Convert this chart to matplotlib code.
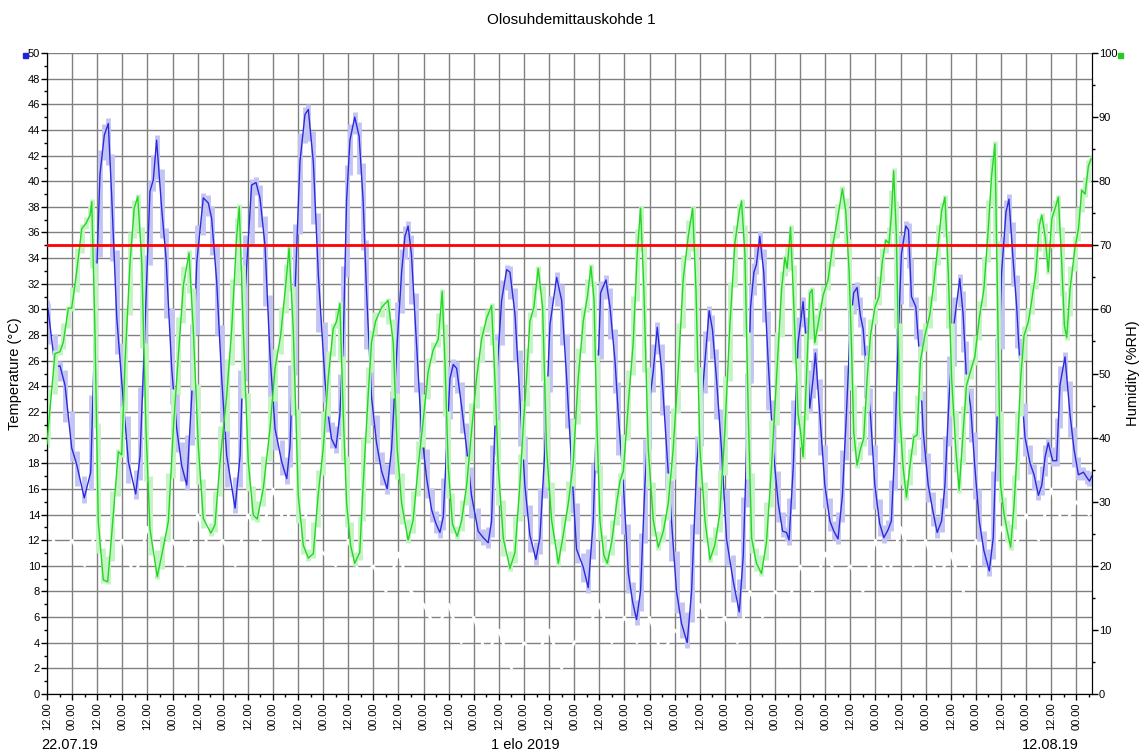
import numpy as np
import matplotlib
matplotlib.use("Agg")
import matplotlib.pyplot as plt
from matplotlib.ticker import MultipleLocator
from matplotlib.patches import Rectangle

plt.rcParams['font.family'] = ['Liberation Sans', 'DejaVu Sans']

# hours counted from 22.07.2019 12:00
temp_hours = [0, 0.6, 3.8, 6.2, 8.6, 11.8, 14.2, 17.8, 20.9, 22.9, 25.3, 27.4, 29.3, 30.9, 33.3, 35.7,
              38.9, 42.4, 44.5, 46.8, 49.2, 50.8, 52.4, 54.8, 56.9, 59.6, 62.0, 64.4, 66.8, 69.2, 71.6,
              74.7, 77.1, 78.7, 81.1, 83.5, 85.9, 89.9, 92.3, 94.6, 97.8, 99.9, 101.8, 104.2, 106.6,
              109.0, 112.2, 114.6, 116.2, 118.5, 120.9, 123.3, 124.9, 127.3, 129.7, 132.8, 134.4,
              136.0, 138.1, 140.0, 141.6, 143.2, 144.8, 147.1, 149.2, 151.1, 152.7, 155.1, 157.5,
              159.9, 162.6, 164.7, 167.4, 169.5, 171.1, 172.6, 174.2, 176.6, 179.0, 181.4, 183.8,
              185.9, 187.8, 189.4, 191.0, 192.6, 194.2, 195.8, 198.2, 200.6, 202.9, 206.1, 208.5,
              210.9, 212.5, 214.9, 217.3, 219.7, 221.3, 223.7, 226.0, 228.4, 230.8, 233.7, 235.6,
              238.0, 240.4, 243.6, 246.0, 248.4, 250.8, 253.1, 256.3, 258.7, 261.1, 262.7, 264.6,
              267.2, 269.1, 271.5, 273.1, 275.5, 277.9, 279.9, 281.8, 283.7, 285.8, 287.9, 289.8,
              291.7, 293.8, 296.2, 298.5, 300.9, 303.3, 306.0, 308.1, 310.5, 312.4, 314.5, 316.5,
              318.1, 320.0, 322.4, 324.8, 328.0, 330.9, 332.8, 334.4, 336.3, 337.9, 339.1, 340.7,
              342.6, 344.7, 347.1, 349.5, 351.6, 353.5, 354.7, 356.7, 359.0, 361.4, 363.0, 364.6,
              366.2, 367.3, 369.4, 371.8, 374.2, 376.1, 378.1, 380.2, 382.1, 384.0, 385.6, 387.2,
              388.8, 390.1, 391.7, 393.6, 395.7, 398.0, 400.0, 402.0, 403.6, 405.2, 406.8, 408.4,
              410.5, 411.8, 413.2, 415.3, 417.2, 418.8, 421.2, 423.3, 425.5, 427.6, 429.2, 431.2,
              433.5, 436.3, 437.9, 439.5, 441.5, 443.5, 445.6, 447.8, 450.4, 452.3, 454.2, 456.3,
              458.4, 459.8, 461.6, 463.5, 465.4, 467.5, 469.9, 471.8, 473.9, 475.5, 477.1, 478.6,
              480.7, 482.6, 484.2, 486.6, 489.0, 490.9, 493.0, 495.4, 497.0, 498.3, 499.4]
temp_vals = [30.3, 29.9, 25.5, 25.6, 24.1, 19.2, 17.9, 15.3, 17.3, 28.5, 40.5, 43.6, 44.5, 38.9, 29.5, 24.4,
             18.1, 15.6, 18.6, 28.5, 39.2, 40.1, 43.2, 37.9, 34.0, 25.4, 20.7, 17.8, 16.3, 23.3, 33.7,
             38.7, 38.3, 37.1, 32.2, 24.6, 18.6, 14.5, 18.6, 31.1, 39.7, 39.9, 38.7, 35.0, 26.4,
             20.7, 18.1, 16.8, 19.4, 31.1, 41.5, 45.2, 45.6, 41.5, 32.7, 24.6, 21.8,
             19.9, 19.2, 21.8, 27.4, 38.5, 43.2, 45.0, 43.5, 38.5, 31.5, 23.2, 19.6,
             17.4, 16.0, 19.1, 27.4, 32.9, 35.7, 36.5, 34.3, 27.4, 20.5, 16.9, 14.4,
             13.3, 12.6, 13.8, 19.1, 24.6, 25.7, 25.4, 22.4, 19.1, 15.5, 12.7, 12.2,
             11.8, 13.5, 24.6, 30.7, 33.1, 32.9, 29.6, 23.2, 16.3, 12.4, 10.5, 12.2,
             19.1, 28.8, 32.5, 30.7, 24.6, 17.7, 11.3, 9.9, 8.3, 13.5, 21.8, 31.3,
             32.3, 30.2, 26.0, 21.8, 16.3, 9.4, 7.2, 5.8, 8.0, 16.3, 22.7, 25.2,
             28.6, 25.2, 19.1, 13.5, 8.0, 5.5, 4.0, 8.0, 17.7, 21.8, 26.0, 29.9,
             28.4, 24.6, 19.1, 12.1, 8.8, 6.4, 10.8, 19.1, 30.2, 32.9, 33.5, 35.7,
             32.9, 26.0, 19.1, 14.9, 12.7, 12.6, 12.0, 17.7, 27.4, 30.6, 27.4, 22.3,
             24.6, 26.6, 21.8, 16.3, 13.5, 12.7, 12.1, 15.5, 21.8, 28.8, 31.3, 31.7,
             29.5, 28.5, 25.2, 21.8, 16.3, 13.3, 12.2, 12.8, 13.5, 19.1, 27.4, 34.3,
             36.5, 36.2, 31.0, 30.2, 26.0, 20.5, 16.3, 14.4, 12.6, 13.5, 16.3, 23.2,
             28.8, 32.4, 29.6, 24.6, 22.4, 17.7, 13.5, 11.2, 9.6, 12.2, 21.8, 32.9,
             37.6, 38.6, 34.3, 30.2, 24.6, 20.0, 18.0, 17.1, 15.5, 16.3, 18.5, 19.6,
             18.2, 18.2, 24.1, 26.3, 21.8, 19.1, 17.1, 17.3, 16.9, 16.6, 17.0]

hum_hours = [0, 0.6, 3.8, 6.2, 7.8, 10.2, 11.8, 14.2, 16.6, 18.6, 20.6, 21.4, 22.9, 24.5, 26.9, 29.0,
             30.9, 34.1, 35.7, 37.3, 39.7, 41.7, 43.4, 45.3, 47.3, 49.2, 52.7, 54.8, 58.0, 60.4,
             62.8, 65.2, 67.9, 69.9, 72.3, 74.7, 78.3, 80.3, 82.7, 85.9, 88.3, 90.7, 91.9, 93.8,
             96.2, 98.6, 100.5, 103.4, 106.6, 109.0, 111.7, 114.1, 115.7, 117.7, 120.1, 122.5,
             124.9, 127.3, 129.6, 132.0, 134.4, 136.8, 138.4, 140.0, 141.6, 143.2, 145.1, 147.1,
             149.5, 151.1, 153.5, 155.1, 157.0, 159.9, 163.0, 165.5, 167.4, 169.5, 172.6, 175.0,
             177.4, 179.8, 182.2, 184.6, 187.0, 188.9, 190.2, 191.8, 193.8, 196.1, 198.2, 200.6,
             202.9, 205.3, 207.7, 210.1, 212.5, 214.1, 215.7, 218.1, 221.3, 223.7, 226.0, 227.6,
             229.2, 230.8, 232.7, 234.8, 236.9, 238.8, 241.2, 244.4, 246.8, 249.2, 251.5, 253.9,
             256.3, 258.3, 260.0, 261.5, 262.7, 264.3, 266.2, 267.8, 269.9, 272.3, 273.9, 275.5,
             277.9, 280.2, 282.1, 283.7, 285.3, 287.4, 289.8, 292.2, 294.6, 297.0, 299.3, 301.7,
             304.1, 306.5, 308.6, 310.2, 312.1, 314.5, 316.9, 319.2, 321.6, 324.0, 326.4, 328.8,
             330.9, 332.0, 333.6, 335.2, 336.8, 339.1, 341.5, 343.9, 346.3, 348.7, 351.1, 352.7,
             353.8, 355.4, 357.0, 359.0, 360.2, 361.4, 363.0, 364.6, 365.7, 367.0, 369.4, 371.0,
             373.4, 375.4, 377.4, 380.2, 381.8, 383.4, 384.5, 385.6, 387.2, 388.8, 390.4, 392.0,
             393.6, 395.7, 397.7, 399.3, 400.9, 402.5, 403.6, 404.7, 406.0, 407.6, 409.2, 410.8,
             412.4, 414.3, 415.9, 417.5, 419.6, 422.0, 423.9, 426.0, 427.6, 429.2, 430.8, 432.4,
             434.4, 436.0, 437.9, 439.5, 441.9, 443.5, 445.6, 447.8, 449.9, 451.5, 453.1, 454.7,
             455.8, 457.4, 459.0, 460.6, 462.2, 463.8, 465.4, 467.0, 469.1, 470.7, 472.7, 474.3,
             475.5, 477.1, 478.6, 480.3, 481.9, 483.4, 485.0, 486.3, 487.4, 489.0, 491.4, 493.0,
             494.6, 496.2, 497.8, 499.1]
hum_vals = [39.0, 41.4, 53.1, 53.4, 54.9, 60.2, 60.2, 65.9, 72.6, 73.4, 74.7, 76.8, 57.0, 26.9, 17.8, 17.5,
            24.8, 37.8, 37.3, 51.8, 67.4, 75.8, 77.6, 67.4, 41.4, 25.8, 18.3, 21.6, 26.9, 41.4,
            52.9, 63.8, 68.8, 57.0, 38.8, 27.4, 25.1, 26.4, 36.2, 46.6, 57.0, 71.6, 76.0, 57.0,
            36.2, 27.9, 27.3, 32.1, 41.4, 50.8, 56.0, 63.8, 69.6, 57.0, 31.0, 23.2,
            21.2, 21.9, 31.0, 38.2, 49.2, 57.0, 58.1, 60.9, 43.7, 29.8, 23.2, 20.4,
            22.1, 32.6, 46.5, 54.8, 58.1, 60.3, 61.4, 54.8, 38.2, 29.8, 24.0, 27.1,
            35.4, 42.6, 50.3, 53.7, 55.3, 62.8, 52.0, 35.4, 26.5, 24.6, 27.1, 32.6,
            40.9, 49.2, 55.3, 58.6, 60.6, 49.2, 35.4, 24.3, 19.6, 22.1, 32.6, 41.5,
            49.2, 58.1, 60.3, 66.4, 60.3, 38.2, 27.1, 20.4, 24.9, 29.8, 35.9, 49.2,
            58.1, 62.0, 66.7, 61.4, 43.7, 27.1, 21.6, 20.4, 23.7, 29.8, 33.2, 34.8,
            45.4, 54.8, 68.6, 75.8, 63.1, 38.2, 27.1, 22.9, 25.4, 29.8, 38.2, 50.3,
            64.7, 71.4, 75.8, 63.1, 38.2, 27.1, 21.0, 23.2, 28.2, 40.9, 57.5, 70.3,
            75.3, 76.9, 68.6, 43.7, 24.3, 20.4, 18.8, 23.7, 35.4, 49.2, 63.1, 68.1,
            66.4, 72.8, 60.3, 43.7, 40.9, 37.0, 49.2, 62.5, 63.1, 54.8, 59.2, 62.2,
            64.7, 69.7, 73.3, 78.8, 75.3, 65.9, 54.8, 40.9, 35.7, 38.2, 39.9, 49.2,
            55.9, 60.3, 62.0, 67.5, 70.8, 70.3, 74.7, 81.6, 71.4, 43.7, 35.4, 30.7,
            35.4, 40.1, 40.4, 52.0, 55.9, 59.2, 64.2, 70.3, 75.3, 77.5, 65.9, 49.2,
            38.2, 31.8, 40.9, 48.1, 50.9, 52.6, 58.6, 63.1, 72.5, 80.8, 85.8, 54.8,
            32.6, 28.2, 25.4, 22.9, 29.3, 38.2, 49.2, 55.9, 58.1, 61.4, 65.9, 73.1,
            74.7, 71.4, 65.9, 74.2, 75.8, 77.5, 67.5, 57.5, 55.6, 63.1, 69.7, 72.5,
            78.6, 78.0, 82.4, 83.5]

# third series drawn in white (only visible where it cuts the grid)
dew_hours = list(range(0, 499, 6))
dew_vals = [13, 11, 12, 10, 13, 11, 12, 9, 13, 10, 12, 10, 14, 11, 12, 10, 14, 12, 16, 13, 17,
            12, 11, 10, 12, 9, 10, 8, 11, 8, 7, 5, 7, 4, 6, 3, 5, 2, 4, 3, 5, 2, 4, 5, 7, 4,
            6, 4, 6, 3, 5, 4, 7, 5, 6, 4, 8, 6, 8, 7, 10, 8, 11, 9, 10, 8, 12, 9, 13, 10, 12,
            9, 11, 8, 12, 10, 13, 11, 14, 12, 16, 13, 15, 14]

temp_limit = 35
x_end = 499.5
tick_hours = list(range(0, 493, 12))
tick_labels = ["12.00" if (h // 12) % 2 == 0 else "00.00" for h in tick_hours]


def range_bars(a, hours, vals, color):
    # light min/max bar around every reading, reaching halfway to its neighbours
    v = np.asarray(vals, dtype=float)
    prev = np.concatenate([[v[0]], (v[:-1] + v[1:]) / 2])
    nxt = np.concatenate([(v[:-1] + v[1:]) / 2, [v[-1]]])
    lo = np.minimum(np.minimum(prev, nxt), v) - 0.4
    hi = np.maximum(np.maximum(prev, nxt), v) + 0.4
    a.vlines(hours, lo, hi, color=color, lw=3.5, zorder=2)


fig = plt.figure(figsize=(11.42, 7.53), dpi=100)
ax = fig.add_axes([47 / 1142, 1 - 694 / 753, 1045 / 1142, 641 / 753])
ax2 = ax.twinx()

ax.set_axisbelow(True)
ax.grid(True, which="major", color="#808080", lw=1)
ax.plot(dew_hours, dew_vals, color="white", lw=2, zorder=1.5)
range_bars(ax, temp_hours, temp_vals, "#c4c4f4")
ax.plot(temp_hours, temp_vals, color="#2a2ade", lw=1.0, zorder=3)

range_bars(ax2, hum_hours, hum_vals, "#c4f4c4")
ax2.plot(hum_hours, hum_vals, color="#22d822", lw=1.0, zorder=3)
ax2.plot([0, x_end], [temp_limit, temp_limit], color="red", lw=2, zorder=4,
         transform=ax.transData)

ax.set_xlim(0, x_end)
ax.set_ylim(0, 50)
ax2.set_ylim(0, 100)

ax.set_xticks(tick_hours)
ax.set_xticklabels(tick_labels, rotation=90, fontsize=8)
ax.xaxis.set_minor_locator(MultipleLocator(6))
ax.yaxis.set_major_locator(MultipleLocator(2))
ax.yaxis.set_minor_locator(MultipleLocator(1))
ax2.yaxis.set_major_locator(MultipleLocator(10))
ax2.yaxis.set_minor_locator(MultipleLocator(5))

for a in (ax, ax2):
    a.tick_params(which="major", length=4, width=1, labelsize=8, pad=1)
    a.tick_params(which="minor", length=2, width=1)
    a.spines["top"].set_visible(False)
ax.tick_params(axis="x", which="major", pad=2)

ax.set_ylabel("Temperature (°C)", fontsize=10.5, labelpad=4)
ax2.set_ylabel("Humidity (%RH)", fontsize=10.5, labelpad=6)
fig.text(0.5, 1 - 20 / 753, "Olosuhdemittauskohde 1", ha="center", va="center", fontsize=11)

fig.text(70 / 1142, 1 - 745 / 753, "22.07.19", ha="center", va="center", fontsize=10.5)
fig.text(525 / 1142, 1 - 745 / 753, "1 elo 2019", ha="center", va="center", fontsize=10.5)
fig.text(1050 / 1142, 1 - 745 / 753, "12.08.19", ha="center", va="center", fontsize=10.5)

fig.patches.append(Rectangle((23 / 1142, 1 - 58 / 753), 5 / 1142, 5 / 753,
                             transform=fig.transFigure, color="#2222dd"))
fig.patches.append(Rectangle((1118 / 1142, 1 - 58 / 753), 5 / 1142, 5 / 753,
                             transform=fig.transFigure, color="#22cc22"))

fig.savefig("out.png", dpi=100)
